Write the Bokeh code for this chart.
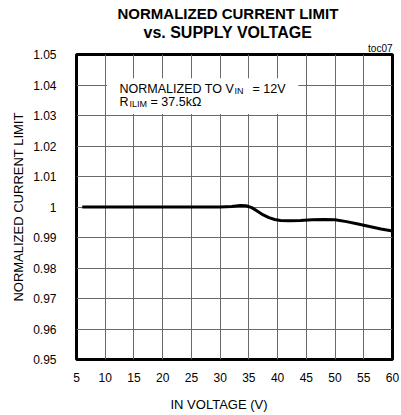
from bokeh.plotting import figure
from bokeh.models import FixedTicker, Label, BoxAnnotation, Range1d, Title
from bokeh.embed import file_html
from bokeh.resources import INLINE

# data
voltage = [6, 10, 15, 20, 25, 30, 32, 33.5, 34.5, 35.5, 36.5, 37.5, 38.5, 39.5,
           40.5, 42, 44, 46, 48, 50, 52, 54, 56, 58, 60]
current = [1.0, 1.0, 1.0, 1.0, 1.0, 1.0, 1.0002, 1.0005, 1.0004, 0.9998, 0.9986,
           0.9974, 0.9965, 0.9959, 0.9956, 0.9955, 0.9956, 0.9958, 0.9959, 0.9958,
           0.9952, 0.9944, 0.9936, 0.9928, 0.9921]
x_ticks = [5, 10, 15, 20, 25, 30, 35, 40, 45, 50, 55, 60]
y_ticks = [0.95, 0.96, 0.97, 0.98, 0.99, 1.0, 1.01, 1.02, 1.03, 1.04, 1.05]
y_tick_labels = ["0.95", "0.96", "0.97", "0.98", "0.99", "1", "1.01", "1.02", "1.03", "1.04", "1.05"]

title1 = "NORMALIZED CURRENT LIMIT"
title2 = "vs. SUPPLY VOLTAGE"
tag = "toc07"
x_label = "IN VOLTAGE (V)"
y_label = "NORMALIZED CURRENT LIMIT"

FONT = "Liberation Sans"

p = figure(width=401, height=415, frame_width=316, frame_height=305,
           min_border_left=76, min_border_right=9, min_border_top=54, min_border_bottom=56,
           x_range=Range1d(5, 60), y_range=Range1d(0.95, 1.05),
           output_backend="svg", toolbar_location=None)

p.outline_line_color = "black"
p.outline_line_width = 3
p.background_fill_color = "white"
p.border_fill_color = "white"

for ax in (p.xaxis[0], p.yaxis[0]):
    ax.axis_line_color = None
    ax.major_tick_line_color = None
    ax.minor_tick_line_color = None
    ax.major_label_text_font = FONT
    ax.major_label_text_font_size = "12px"
    ax.major_label_text_color = "black"

p.xaxis.ticker = FixedTicker(ticks=x_ticks)
p.yaxis.ticker = FixedTicker(ticks=y_ticks)
p.yaxis.major_label_overrides = {t: l for t, l in zip(y_ticks, y_tick_labels)}
p.xaxis.major_label_standoff = 7
p.yaxis.major_label_standoff = 14

p.xgrid.ticker = FixedTicker(ticks=x_ticks)
p.ygrid.ticker = FixedTicker(ticks=y_ticks)
p.grid.grid_line_color = "#6a6a6a"
p.grid.grid_line_width = 1

p.line(voltage, current, line_color="black", line_width=3, line_join="round")

# white box behind annotation text
p.add_layout(BoxAnnotation(left=10.3, right=43.6, bottom=1.0305, top=1.0422,
                           fill_color="white", fill_alpha=1.0, line_color=None))

def lab(xo, y, text, size, yo=0):
    p.add_layout(Label(x=12.5, y=y, x_offset=xo, y_offset=yo, text=text,
                       text_font=FONT, text_font_size=size, text_color="black",
                       text_baseline="alphabetic"))

# annotation text
lab(0, 1.0388, "NORMALIZED TO V", "12.5px")
lab(115, 1.0388, "IN", "9px", yo=-2)
lab(133, 1.0388, "= 12V", "12.5px")
lab(0, 1.0344, "R", "12.5px")
lab(10, 1.0344, "ILIM", "9px", yo=-2)
lab(31, 1.0344, "= 37.5k\u03a9", "12.5px")

# titles (stacked around the frame)
def title(text, loc, size, align="center", offset=0, standoff=0, bold=False):
    p.add_layout(Title(text=text, align=align, offset=offset, standoff=standoff,
                       text_font=FONT, text_font_size=size, text_color="black",
                       text_font_style="bold" if bold else "normal"), loc)

title(tag, "above", "10px", align="right", standoff=1)
title(title2, "above", "16px", align="left", offset=67, standoff=0, bold=True)
title(title1, "above", "15px", align="left", offset=41, standoff=0, bold=True)
title(x_label, "below", "13px", align="left", offset=94, standoff=20)
title(y_label, "left", "13px", offset=13, standoff=9)

open("out.html", "w").write(file_html(p, INLINE))
